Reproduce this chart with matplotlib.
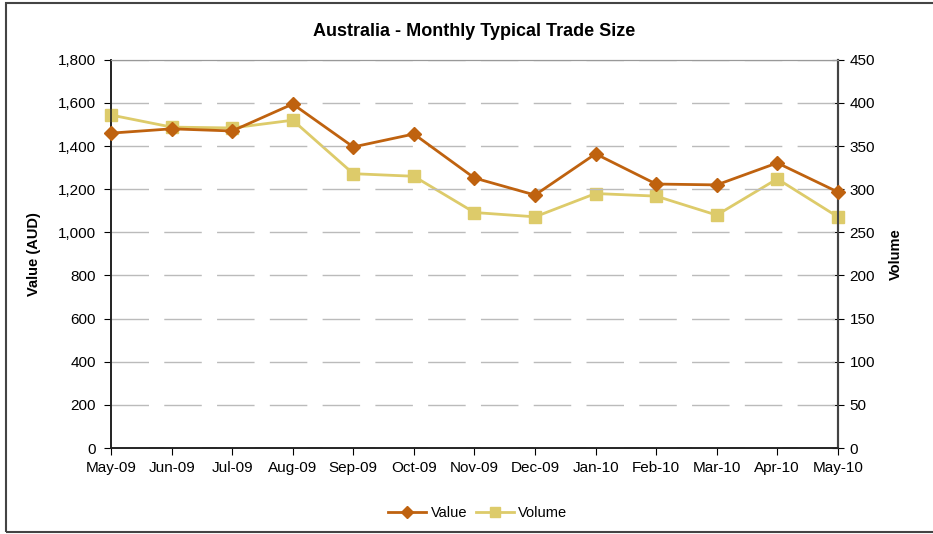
import matplotlib.pyplot as plt
from matplotlib.patches import Rectangle
from matplotlib.ticker import FuncFormatter
from matplotlib.lines import Line2D

plt.rcParams['font.family'] = ['Liberation Sans', 'DejaVu Sans']

months = ['May-09', 'Jun-09', 'Jul-09', 'Aug-09', 'Sep-09', 'Oct-09', 'Nov-09',
          'Dec-09', 'Jan-10', 'Feb-10', 'Mar-10', 'Apr-10', 'May-10']
value_aud = [1460, 1480, 1470, 1595, 1396, 1456, 1252, 1173, 1364, 1224, 1220, 1322, 1187]
volume = [386, 372, 371, 380, 318, 315, 273, 268, 295, 292, 270, 312, 268]

c_value = '#BF620F'
c_volume = '#DDCB6A'

fig = plt.figure(figsize=(9.33, 5.34), dpi=100)
ax = fig.add_axes([0.119, 0.161, 0.779, 0.727])
ax2 = ax.twinx()

x = list(range(len(months)))

# Volume first so Value line sits on top
ax2.plot(x, volume, color=c_volume, lw=2, marker='s', ms=8.5, zorder=3, clip_on=False)
ax.plot(x, value_aud, color=c_value, lw=2, marker='D', ms=7.5, zorder=4, clip_on=False)
ax.set_zorder(ax2.get_zorder() + 1)
ax.patch.set_visible(False)

ax.set_xlim(0, 12)
ax.set_ylim(0, 1800)
ax2.set_ylim(0, 450)
ax.set_yticks(range(0, 1801, 200))
ax2.set_yticks(range(0, 451, 50))
ax.yaxis.set_major_formatter(FuncFormatter(lambda v, p: f'{int(v):,}'))
ax.set_xticks(x)
ax.set_xticklabels(months)

ax.grid(axis='y', color='#BBBBBB', ls=(0, (27, 11)), lw=1)
ax.set_axisbelow(True)

for a in (ax, ax2):
    a.spines['top'].set_color('#999999')
    a.spines['left'].set_color('#222222')
    a.spines['right'].set_color('#444444')
    a.spines['bottom'].set_color('#222222')
    a.spines['right'].set_linewidth(1.5)
    a.spines['left'].set_linewidth(1.2)
    a.spines['bottom'].set_linewidth(1.2)

ax.tick_params(axis='y', direction='out', length=5, labelsize=11, pad=6)
ax.tick_params(axis='x', direction='out', length=5, labelsize=11, pad=4)
ax2.tick_params(axis='y', direction='inout', length=9, labelsize=11, pad=4)

ax.set_ylabel('Value (AUD)', fontsize=10.5, fontweight='bold', labelpad=12)
ax2.set_ylabel('Volume', fontsize=10.5, fontweight='bold', labelpad=10)
ax.set_title('Australia - Monthly Typical Trade Size', fontsize=13, fontweight='bold', pad=17)

handles = [Line2D([], [], color=c_value, lw=2, marker='D', ms=6.5),
           Line2D([], [], color=c_volume, lw=2, marker='s', ms=7)]
fig.legend(handles, ['Value', 'Volume'], loc='center', bbox_to_anchor=(0.512, 0.039),
           ncol=2, frameon=False, fontsize=10.5, handlelength=2.6, columnspacing=0.6,
           handletextpad=0.3)

fig.patches.append(Rectangle((0.006, 0.004), 1.1, 0.99, transform=fig.transFigure,
                             fill=False, edgecolor='#444444', lw=1.5))

fig.savefig('out.png', dpi=100)
